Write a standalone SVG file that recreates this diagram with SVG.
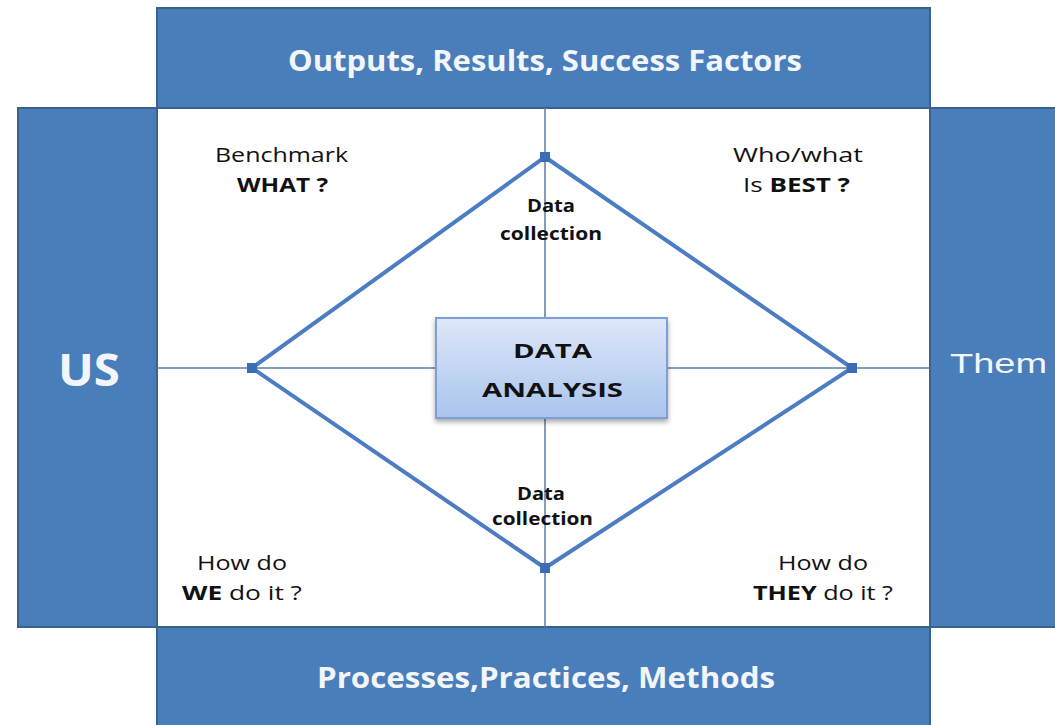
<svg xmlns="http://www.w3.org/2000/svg" width="1055" height="725" viewBox="0 0 1055 725">
  <defs>
    <linearGradient id="boxGrad" x1="0" y1="0" x2="0" y2="1">
      <stop offset="0" stop-color="#dde7f8"/>
      <stop offset="1" stop-color="#a9c4ee"/>
    </linearGradient>
    <filter id="shadow" x="-10%" y="-10%" width="120%" height="130%">
      <feDropShadow dx="0" dy="3" stdDeviation="2.5" flood-color="#000" flood-opacity="0.35"/>
    </filter>
    <style>
      .bar { fill: #4a7ebb; stroke: #3a628f; stroke-width: 2; }
      .bartxt { font-family: "Open Sans", "DejaVu Sans", sans-serif; font-weight: bold; fill: #f2f6fb; text-anchor: start; }
      .lbl { font-family: "Open Sans", "DejaVu Sans", sans-serif; font-size: 20px; fill: #111; }
      .b { font-weight: bold; }
      .dc { font-family: "Open Sans", "DejaVu Sans", sans-serif; font-size: 17px; font-weight: bold; fill: #111; }
      .axis { stroke: #5d7ca6; stroke-width: 1.5; fill: none; }
      .diamond { stroke: #4c7cc3; stroke-width: 4; fill: none; stroke-linejoin: miter; }
      .vtx { fill: #3c6cb5; }
    </style>
  </defs>
  <rect x="0" y="0" width="1055" height="725" fill="#ffffff"/>

  <g id="top-bar">
    <rect class="bar" x="157" y="8" width="773" height="100"/>
    <text class="bartxt" x="288" y="71" font-size="28" textLength="514" lengthAdjust="spacingAndGlyphs">Outputs, Results, Success Factors</text>
  </g>
  <g id="left-bar">
    <rect class="bar" x="18" y="108" width="139" height="519"/>
    <text class="bartxt" x="58" y="386" font-size="45" textLength="62" lengthAdjust="spacingAndGlyphs">US</text>
  </g>
  <g id="right-bar">
    <rect class="bar" x="930" y="108" width="130" height="519"/>
    <text x="950" y="373" font-family="Liberation Sans, Arial, sans-serif" font-size="28" fill="#f2f6fb" textLength="97" lengthAdjust="spacingAndGlyphs">Them</text>
  </g>
  <g id="bottom-bar">
    <rect class="bar" x="157" y="627" width="773" height="102"/>
    <text class="bartxt" x="317" y="688" font-size="28" textLength="458" lengthAdjust="spacingAndGlyphs">Processes,Practices, Methods</text>
  </g>

  <g id="connectors">
    <line class="axis" x1="545" y1="108" x2="545" y2="627"/>
    <line class="axis" x1="157" y1="368" x2="930" y2="368"/>
    <polygon class="diamond" points="545,157 852,368 545,568 252,368"/>
    <rect class="vtx" x="540" y="152" width="10" height="10"/>
    <rect class="vtx" x="847" y="363" width="10" height="10"/>
    <rect class="vtx" x="540" y="563" width="10" height="10"/>
    <rect class="vtx" x="247" y="363" width="10" height="10"/>
  </g>

  <g id="data-analysis">
    <rect x="436" y="318" width="231" height="100" fill="url(#boxGrad)" stroke="#7c9fd4" stroke-width="2" filter="url(#shadow)"/>
    <text class="lbl b" x="513" y="358" font-size="26" textLength="79" lengthAdjust="spacingAndGlyphs">DATA</text>
    <text class="lbl b" x="482" y="397" font-size="26" textLength="141" lengthAdjust="spacingAndGlyphs">ANALYSIS</text>
  </g>

  <g id="data-collection-top">
    <text class="dc" x="527" y="212" textLength="48" lengthAdjust="spacingAndGlyphs">Data</text>
    <text class="dc" x="500" y="240" textLength="102" lengthAdjust="spacingAndGlyphs">collection</text>
  </g>
  <g id="data-collection-bottom">
    <text class="dc" x="517" y="500" textLength="48" lengthAdjust="spacingAndGlyphs">Data</text>
    <text class="dc" x="492" y="525" textLength="101" lengthAdjust="spacingAndGlyphs">collection</text>
  </g>

  <g id="benchmark-what">
    <text class="lbl" x="215" y="162" textLength="133" lengthAdjust="spacingAndGlyphs">Benchmark</text>
    <text class="lbl b" x="237" y="192" textLength="91" lengthAdjust="spacingAndGlyphs">WHAT ?</text>
  </g>
  <g id="who-is-best">
    <text class="lbl" x="733" y="162" textLength="130" lengthAdjust="spacingAndGlyphs">Who/what</text>
    <text class="lbl" x="743" y="192" textLength="107" lengthAdjust="spacingAndGlyphs">Is <tspan class="b">BEST ?</tspan></text>
  </g>
  <g id="how-we">
    <text class="lbl" x="197" y="570" textLength="90" lengthAdjust="spacingAndGlyphs">How do</text>
    <text class="lbl" x="182" y="600" textLength="120" lengthAdjust="spacingAndGlyphs"><tspan class="b">WE</tspan> do it ?</text>
  </g>
  <g id="how-they">
    <text class="lbl" x="778" y="570" textLength="90" lengthAdjust="spacingAndGlyphs">How do</text>
    <text class="lbl" x="753" y="600" textLength="140" lengthAdjust="spacingAndGlyphs"><tspan class="b">THEY</tspan> do it ?</text>
  </g>
</svg>
